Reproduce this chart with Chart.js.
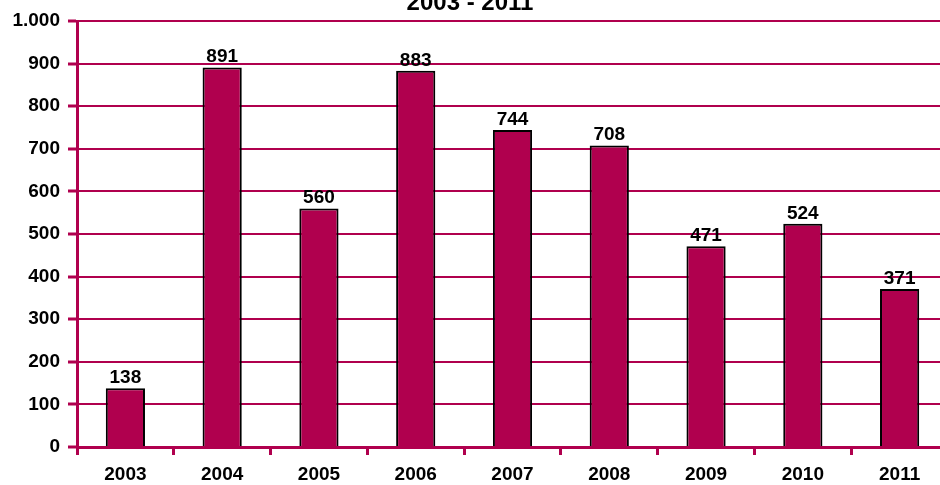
<!DOCTYPE html>
<html>
<head>
<meta charset="utf-8">
<script src="https://cdn.jsdelivr.net/npm/chart.js@4/dist/chart.umd.min.js"></script>
<style>
  html, body { margin: 0; padding: 0; background: #fff; overflow: hidden; }
  #wrap { position: absolute; left: 0; top: 0; width: 950px; height: 485px; }
</style>
</head>
<body>
<div id="wrap"><canvas id="chart" width="950" height="485"></canvas></div>
<script>
const years = ['2003', '2004', '2005', '2006', '2007', '2008', '2009', '2010', '2011'];
const counts = [138, 891, 560, 883, 744, 708, 471, 524, 371];
const titleText = '2003 - 2011';

const crimson = '#B0004E';
const font = { family: '"Liberation Sans", Arial, sans-serif', size: 19, weight: 'bold' };

// thousands separator with a dot, like 1.000
function fmt(v) {
  return String(v).replace(/\B(?=(\d{3})+(?!\d))/g, '.');
}

const valueLabels = {
  id: 'valueLabels',
  afterDatasetsDraw(chart) {
    const ctx = chart.ctx;
    const meta = chart.getDatasetMeta(0);
    ctx.save();
    ctx.font = 'bold 19px "Liberation Sans", Arial, sans-serif';
    ctx.fillStyle = '#000';
    ctx.textAlign = 'center';
    ctx.textBaseline = 'bottom';
    meta.data.forEach((bar, i) => {
      ctx.fillText(fmt(counts[i]), bar.x, bar.y - 1);
    });
    ctx.restore();
  }
};

const topTitle = {
  id: 'topTitle',
  afterDraw(chart) {
    const ctx = chart.ctx;
    ctx.save();
    ctx.font = 'bold 24px "Liberation Sans", Arial, sans-serif';
    ctx.fillStyle = '#000';
    ctx.textAlign = 'center';
    ctx.textBaseline = 'alphabetic';
    ctx.fillText(titleText, 470, 10);
    ctx.restore();
  }
};

new Chart(document.getElementById('chart'), {
  type: 'bar',
  data: {
    labels: years,
    datasets: [{
      data: counts,
      backgroundColor: crimson,
      borderColor: '#000',
      borderWidth: 2,
      barPercentage: 0.405,
      categoryPercentage: 1
    }]
  },
  options: {
    responsive: false,
    devicePixelRatio: 1,
    animation: false,
    layout: { padding: { top: 21, right: 2, left: 0, bottom: 0 } },
    plugins: { legend: { display: false }, tooltip: { enabled: false }, title: { display: false } },
    scales: {
      x: {
        grid: { drawOnChartArea: false, color: crimson, tickLength: 8, tickWidth: 3, offset: true },
        border: { color: crimson, width: 3 },
        ticks: { color: '#000', font, padding: 8 },
        afterFit(scale) { scale.height = 38; }
      },
      y: {
        min: 0,
        max: 1000,
        grid: { color: crimson, lineWidth: 2, tickLength: 9, tickWidth: 3 },
        border: { color: crimson, width: 3 },
        ticks: { color: '#000', font, padding: 8, stepSize: 100, callback: v => fmt(v) },
        afterFit(scale) { scale.width = 77; }
      }
    }
  },
  plugins: [valueLabels, topTitle]
});
</script>
</body>
</html>
